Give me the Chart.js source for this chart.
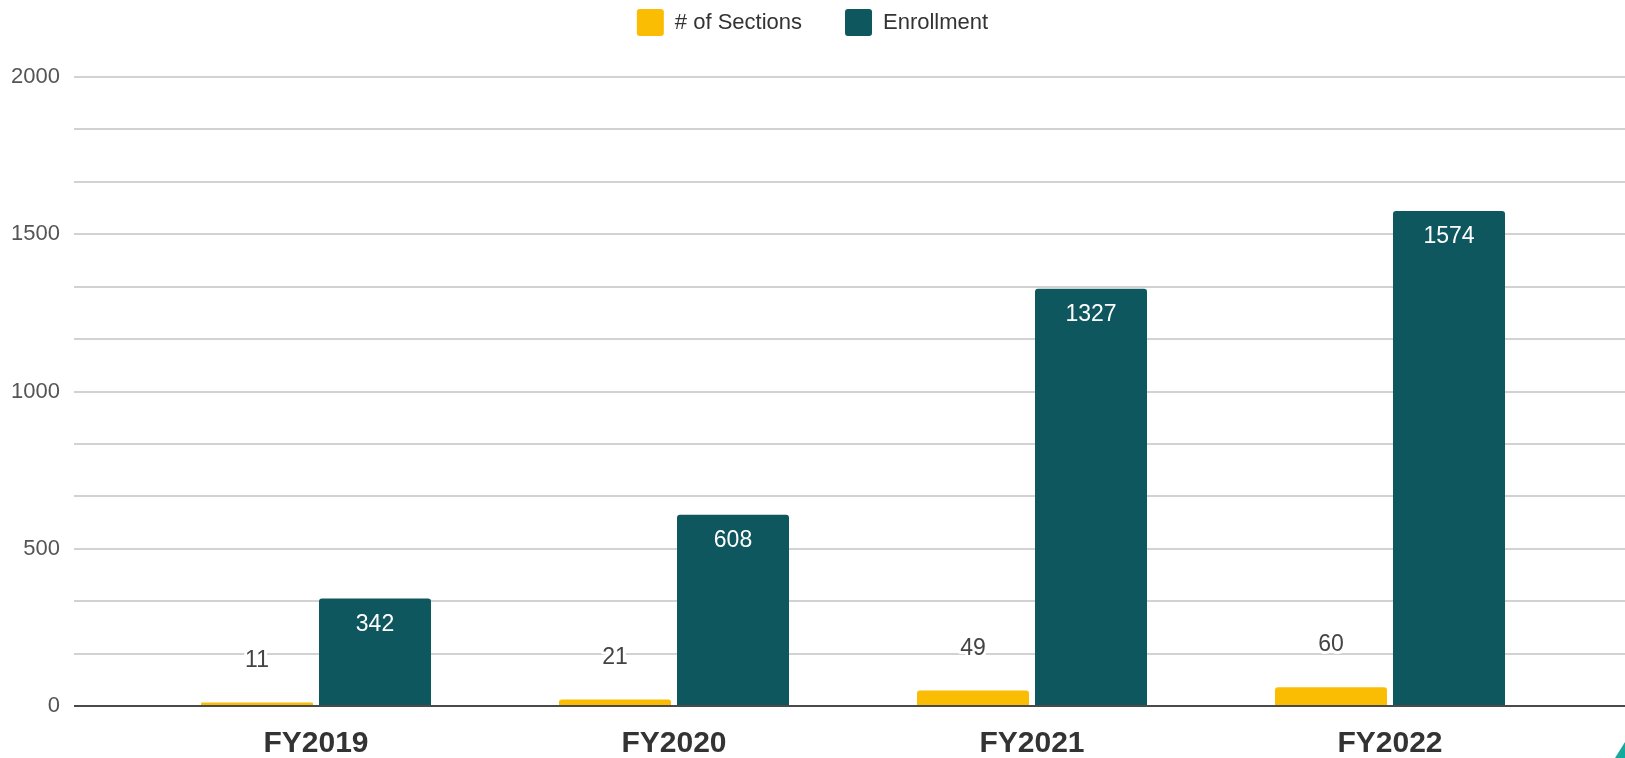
<!DOCTYPE html>
<html><head><meta charset="utf-8">
<script src="https://cdn.jsdelivr.net/npm/chart.js@4.4.0/dist/chart.umd.min.js"></script>
<style>
html,body{margin:0;padding:0;background:#fff;}
#wrap{position:relative;width:1625px;height:758px;overflow:hidden;background:#fff;}
#corner{position:absolute;right:0;bottom:0;width:10px;height:16px;background:#17a89e;clip-path:polygon(100% 0,100% 100%,0 100%);}
</style></head><body>
<div id="wrap"><canvas id="c" width="1625" height="758"></canvas><div id="corner"></div></div>
<script>
// ---- data ----
const categories = ['FY2019', 'FY2020', 'FY2021', 'FY2022'];
const sectionsLabel = '# of Sections';
const enrollmentLabel = 'Enrollment';
const sections = [11, 21, 49, 60];
const enrollment = [342, 608, 1327, 1574];
const yTickLabels = [0, 500, 1000, 1500, 2000];

// ---- styling ----
const FONT = "'Liberation Sans', Arial, sans-serif";
const YELLOW = '#FBBC04';
const TEAL = '#0E575E';

const valueLabels = {
  id: 'valueLabels',
  afterDatasetsDraw(chart) {
    const ctx = chart.ctx;
    chart.data.datasets.forEach((ds, di) => {
      const meta = chart.getDatasetMeta(di);
      meta.data.forEach((bar, i) => {
        const v = ds.data[i].y;
        ctx.save();
        ctx.font = '23px ' + FONT;
        ctx.textAlign = 'center';
        ctx.textBaseline = 'middle';
        if (di === 1) {
          ctx.fillStyle = '#ffffff';
          ctx.fillText(String(v), bar.x, bar.y + 26);
        } else {
          ctx.lineWidth = 6;
          ctx.lineJoin = 'round';
          ctx.strokeStyle = '#ffffff';
          ctx.strokeText(String(v), bar.x, bar.y - 42);
          ctx.fillStyle = '#444444';
          ctx.fillText(String(v), bar.x, bar.y - 42);
        }
        ctx.restore();
      });
    });
  }
};

const isLabelTick = v => yTickLabels.some(t => Math.abs(t - v) < 0.01);

new Chart(document.getElementById('c'), {
  type: 'bar',
  data: {
    datasets: [
      {
        label: sectionsLabel,
        data: sections.map((v, i) => ({ x: i, y: v })),
        backgroundColor: YELLOW,
        borderWidth: 0,
        borderRadius: { topLeft: 3, topRight: 3, bottomLeft: 0, bottomRight: 0 },
        categoryPercentage: 0.6592,
        barPercentage: 0.9492
      },
      {
        label: enrollmentLabel,
        data: enrollment.map((v, i) => ({ x: i, y: v })),
        backgroundColor: TEAL,
        borderWidth: 0,
        borderRadius: { topLeft: 3, topRight: 3, bottomLeft: 0, bottomRight: 0 },
        categoryPercentage: 0.6592,
        barPercentage: 0.9492
      }
    ]
  },
  options: {
    responsive: false,
    animation: false,
    layout: { padding: { top: -34, left: 0, right: 0, bottom: 0 } },
    plugins: {
      tooltip: { enabled: false },
      legend: {
        position: 'top',
        align: 'center',
        labels: {
          boxWidth: 27,
          boxHeight: 27,
          padding: 43,
          color: '#333333',
          font: { family: FONT, size: 22 },
          useBorderRadius: true,
          borderRadius: 3
        }
      },
      title: {
        display: true,
        text: ' ',
        weight: 500,
        font: { size: 1, lineHeight: 1 },
        padding: { top: 0, bottom: 30 }
      }
    },
    scales: {
      x: {
        type: 'linear',
        min: -0.676,
        max: 3.6564,
        offset: false,
        grid: { display: false, drawTicks: false },
        border: { display: false },
        ticks: {
          stepSize: 1,
          includeBounds: false,
          autoSkip: false,
          maxRotation: 0,
          padding: 20,
          color: '#333333',
          font: { family: FONT, size: 30, weight: 'bold' },
          callback: v => (Number.isInteger(v) && categories[v] !== undefined) ? categories[v] : ''
        },
        afterFit: s => { s.height = 52; }
      },
      y: {
        min: 0,
        max: 2000,
        grid: {
          drawTicks: false,
          lineWidth: 2,
          color: c => (c.tick && Math.abs(c.tick.value) < 0.01) ? '#4a4a4a' : '#d2d2d2'
        },
        border: { display: false },
        ticks: {
          stepSize: 2000 / 12,
          maxTicksLimit: 20,
          autoSkip: false,
          padding: 14,
          color: '#555555',
          font: { family: FONT, size: 22 },
          callback: v => isLabelTick(v) ? String(Math.round(v)) : ''
        },
        afterFit: s => { s.width = 74; }
      }
    }
  },
  plugins: [valueLabels]
});
</script>
</body></html>
